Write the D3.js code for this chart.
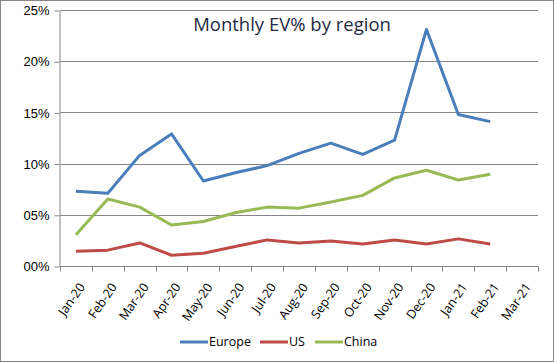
<!DOCTYPE html>
<html>
<head>
<meta charset="utf-8">
<script src="https://cdn.jsdelivr.net/npm/d3@7"></script>
<style>
  body { margin: 0; background: #fff; }
  svg { display: block; font-family: "Open Sans", "DejaVu Sans", sans-serif; }
</style>
</head>
<body>
<div id="chart"></div>
<script>
const months = ["Jan-20","Feb-20","Mar-20","Apr-20","May-20","Jun-20","Jul-20","Aug-20",
                "Sep-20","Oct-20","Nov-20","Dec-20","Jan-21","Feb-21","Mar-21"];
const europe = [7.3, 7.1, 10.8, 12.9, 8.3, 9.1, 9.8, 11.0, 12.0, 10.9, 12.3, 23.1, 14.8, 14.1];
const us     = [1.45, 1.55, 2.25, 1.05, 1.25, 1.9, 2.55, 2.25, 2.45, 2.15, 2.55, 2.15, 2.65, 2.15];
const china  = [3.05, 6.55, 5.75, 4.0, 4.35, 5.2, 5.75, 5.65, 6.25, 6.9, 8.6, 9.35, 8.4, 8.95];
const yTicks = [0, 5, 10, 15, 20, 25];

const series = [
  {name: "Europe", values: europe, color: "#4a7ebb"},
  {name: "US", values: us, color: "#be4b48"},
  {name: "China", values: china, color: "#98b954"}
];

const W = 554, H = 362;
const margin = {top: 10, right: 16, bottom: 96, left: 60};

const svg = d3.select("#chart").append("svg")
    .attr("width", W).attr("height", H);

// outer frame
svg.append("rect")
    .attr("x", 0.5).attr("y", 0.5)
    .attr("width", W - 1).attr("height", H - 1)
    .attr("fill", "#fff").attr("stroke", "#868686");

const x = d3.scaleBand()
    .domain(months)
    .range([margin.left, W - margin.right]);

const y = d3.scaleLinear()
    .domain([0, 25])
    .range([H - margin.bottom, margin.top]);

// gridlines
svg.append("g")
    .selectAll("line")
    .data(yTicks.slice(1))
    .enter().append("line")
    .attr("x1", margin.left).attr("x2", W - margin.right)
    .attr("y1", d => Math.round(y(d)) + 0.5)
    .attr("y2", d => Math.round(y(d)) + 0.5)
    .attr("stroke", "#868686");

// y axis
const yAxis = svg.append("g")
    .attr("transform", `translate(${margin.left - 0.5},0.5)`)
    .call(d3.axisLeft(y).tickValues(yTicks).tickSize(5).tickSizeOuter(0)
        .tickFormat(d => String(d).padStart(2, "0") + "%"));
yAxis.select(".domain").attr("stroke", "#868686");
yAxis.selectAll(".tick line").attr("stroke", "#868686");
yAxis.selectAll("text")
    .attr("x", -10)
    .attr("fill", "#000")
    .style("font-size", "13px");

// x axis, ticks on band boundaries
const xg = svg.append("g")
    .attr("transform", `translate(0,${Math.round(y(0)) + 0.5})`);
xg.append("line")
    .attr("x1", margin.left).attr("x2", W - margin.right)
    .attr("stroke", "#868686");
xg.selectAll(".tk")
    .data(months.concat(["end"]))
    .enter().append("line")
    .attr("class", "tk")
    .attr("x1", (d, i) => Math.round(margin.left + i * x.step()) + 0.5)
    .attr("x2", (d, i) => Math.round(margin.left + i * x.step()) + 0.5)
    .attr("y1", 0).attr("y2", 5)
    .attr("stroke", "#868686");
xg.selectAll(".lbl")
    .data(months)
    .enter().append("text")
    .attr("class", "lbl")
    .attr("transform", d => `translate(${x(d) + x.bandwidth() / 2 + 6},${18}) rotate(-55)`)
    .attr("text-anchor", "end")
    .attr("dy", "0.35em")
    .style("font-size", "12.5px")
    .attr("fill", "#000")
    .text(d => d);

// lines
const line = d3.line()
    .x((d, i) => x(months[i]) + x.bandwidth() / 2)
    .y(d => y(d));

svg.append("g")
    .selectAll("path")
    .data(series)
    .enter().append("path")
    .attr("d", d => line(d.values))
    .attr("fill", "none")
    .attr("stroke", d => d.color)
    .attr("stroke-width", 3)
    .attr("stroke-linejoin", "round");

// title
svg.append("text")
    .attr("x", 292).attr("y", 31)
    .attr("text-anchor", "middle")
    .style("font-size", "18.5px")
    .attr("fill", "#1f2a44")
    .text("Monthly EV% by region");

// legend
const legendX = [180, 260, 315];
const legend = svg.append("g")
    .selectAll("g")
    .data(series)
    .enter().append("g")
    .attr("transform", (d, i) => `translate(${legendX[i]},342)`);
legend.append("line")
    .attr("x1", 0).attr("x2", 28)
    .attr("stroke", d => d.color)
    .attr("stroke-width", 3);
legend.append("text")
    .attr("x", 29).attr("dy", "0.35em")
    .style("font-size", "12.5px")
    .attr("fill", "#000")
    .text(d => d.name);
</script>
</body>
</html>
